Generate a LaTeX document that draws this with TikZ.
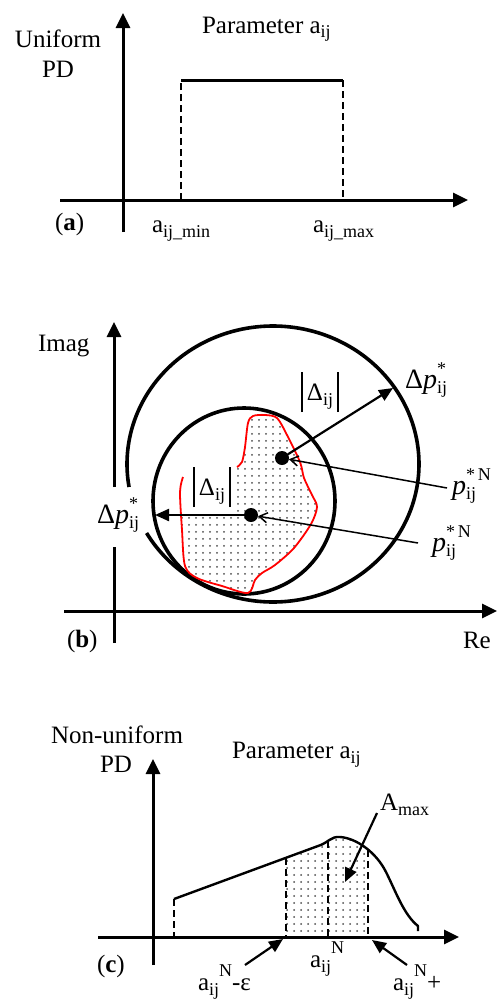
\documentclass[tikz,border=0pt]{standalone}
\usepackage{fontspec}
\setmainfont{Liberation Serif}
\usetikzlibrary{arrows.meta,patterns.meta}
\newcommand\lo[1]{\raisebox{-5pt}{\fontsize{18}{18}\selectfont #1}}
\newcommand\hi[1]{\raisebox{14pt}{\fontsize{18}{18}\selectfont #1}}
\newcommand\lohi[2]{\makebox[0pt][l]{\hi{#2}}\lo{#1}}
\newcommand\absbar{\rule[-12pt]{1.3pt}{40pt}}
\begin{document}
\begin{tikzpicture}[x=1pt,y=-1pt,
  every node/.style={inner sep=0pt,outer sep=0pt,font=\fontsize{25}{30}\selectfont},
  big/.style={font=\fontsize{28}{32}\selectfont},
  axis/.style={line width=3pt,-{Triangle[length=15pt,width=14pt]}},
  dsh/.style={line width=2pt,dash pattern=on 7pt off 4pt},
  bigarrow/.style={line width=2.2pt,-{Triangle[length=14pt,width=12pt]}},
  barb/.style={line width=1.5pt,-{Straight Barb[length=8pt,width=10pt]}},
  dotfill/.style={pattern={Dots[distance=7pt,radius=1pt]},pattern color=black!70},
  pt/.style={circle,fill=black,minimum size=14pt},
  thick circle/.style={line width=3.6pt}]
\useasboundingbox (0,0) rectangle (497,1001);

% ---------------- (a)
\coordinate (ax0) at (60,200); \coordinate (ax1) at (468,200);
\coordinate (ay0) at (123,232); \coordinate (ay1) at (123,13);
\draw[axis] (ax0) -- (ax1);
\draw[axis] (ay0) -- (ay1);
\coordinate (r1) at (181,200); \coordinate (r2) at (181,80);
\coordinate (r3) at (343,80);  \coordinate (r4) at (343,200);
\draw[dsh] (r1) -- (r2);
\draw[line width=3pt] (r2) -- (r3);
\draw[dsh] (r3) -- (r4);
\node[anchor=base] (ua1) at (58,47) {Uniform};
\node[anchor=base] (ua2) at (58,77) {PD};
\node[anchor=base west] (pa) at (202,33) {Parameter a\lo{ij}};
\node[anchor=base west] (la) at (55,230) {(\textbf{a})};
\node[anchor=base west] (amin) at (152,232) {a\lo{ij\_min}};
\node[anchor=base west] (amax) at (313,232) {a\lo{ij\_max}};

% ---------------- (b)
\fill[dotfill] plot[smooth,tension=0.5] coordinates {(181,513) (182,530) (185,566) (197,578) (222,586) (248,593) (255,580) (262,573) (275,565) (294,548) (311,524) (317,507) (312,495) (304,478) (300,462) (287,435) (277,418) (265,415) (253,416) (248,423) (245,447) (242,462) (237,467)} -- (237,513) -- cycle;
\draw[line width=3pt] (114,643) -- (114,547);
\draw[axis] (114,487) -- (114,322);
\draw[axis] (64,611) -- (497,611);
\draw[thick circle] plot[domain=170.4:510,samples=180,smooth] ({273+146*cos(\x)},{464+138*sin(\x)});
\draw[thick circle] (244,501) ellipse[x radius=91,y radius=93];
\draw[red,line width=1.8pt,line join=round] plot[smooth,tension=0.5] coordinates {(183,477) (180,492) (182,530) (185,566) (197,578) (222,586) (248,593) (255,580) (262,573) (275,565) (294,548) (311,524) (317,507) (312,495) (304,478) (300,462) (287,435) (277,418) (265,415) (253,416) (248,423) (245,447) (242,462) (237,467)};
\node[anchor=base west] (imag) at (38,351) {Imag};
\node[anchor=base west] (lb) at (67,647) {(\textbf{b})};
\node[anchor=base west] (re) at (463,648) {Re};
\node (d1) at (320,392) {\absbar\,Δ\lo{ij}\,\absbar};
\node (d2) at (212,487) {\absbar\,Δ\lo{ij}\,\absbar};
\node[anchor=base west,big] (dp1) at (405,388) {Δ\textit{p}\lohi{ij}{*}};
\node[anchor=base west,big] (dp2) at (97,523) {Δ\textit{p}\lohi{ij}{*}};
\node[anchor=base west,big] (p1) at (452,494) {\textit{p}\lohi{ij}{*\,N}};
\node[anchor=base west,big] (p2) at (432,551) {\textit{p}\lohi{ij}{*\,N}};
\node[pt] (u) at (282,458) {};
\node[pt] (l) at (251,515) {};
\coordinate (ue) at (393,388); \coordinate (le) at (155,515);
\draw[bigarrow] (u) -- (ue);
\draw[bigarrow] (l) -- (le);
\coordinate (pu) at (447,488); \coordinate (pl) at (418,543);
\draw[barb] (pu) -- (u);
\draw[barb] (pl) -- (l);

% ---------------- (c)
\begin{scope}
\clip (174,899) -- (318,846) .. controls (328,843) and (331,836) .. (340,837) .. controls (356,838) and (376,852) .. (386,872) .. controls (396,892) and (404,915) .. (418,926) -- (418,937) -- (174,937) -- cycle;
\fill[dotfill] (286,820) rectangle (368,937);
\end{scope}
\draw[axis] (98,937) -- (459,937);
\draw[axis] (153,965) -- (153,759);
\draw[line width=2.4pt,line join=round] (174,899) -- (318,846) .. controls (328,843) and (331,836) .. (340,837) .. controls (356,838) and (376,852) .. (386,872) .. controls (396,892) and (404,915) .. (418,926) -- (418,931);
\draw[dsh] (174,899) -- (174,937);
\draw[dsh] (286,858) -- (286,937);
\draw[dsh] (328,841) -- (328,937);
\draw[dsh] (368,850) -- (368,937);
\node[anchor=base] (nu1) at (117,743) {Non-uniform};
\node[anchor=base] (nu2) at (116,772) {PD};
\node[anchor=base west] (pc) at (232,758) {Parameter a\lo{ij}};
\node[anchor=base west] (amx) at (380,810) {A\lo{max}};
\coordinate (amxs) at (377,813); \coordinate (amxe) at (345,882);
\draw[bigarrow] (amxs) -- (amxe);
\node[anchor=base west] (lc) at (97,972) {(\textbf{c})};
\node[anchor=base west] (aneps) at (198,990) {a\lo{ij}\hi{N}-ε};
\node[anchor=base west] (an) at (310,967) {a\lo{ij}\hi{N}};
\node[anchor=base west] (anp) at (393,990) {a\lo{ij}\hi{N}+};
\coordinate (c1s) at (245,965); \coordinate (c1e) at (283,939);
\coordinate (c2s) at (407,965); \coordinate (c2e) at (372,940);
\draw[bigarrow] (c1s) -- (c1e);
\draw[bigarrow] (c2s) -- (c2e);
\end{tikzpicture}
\end{document}
